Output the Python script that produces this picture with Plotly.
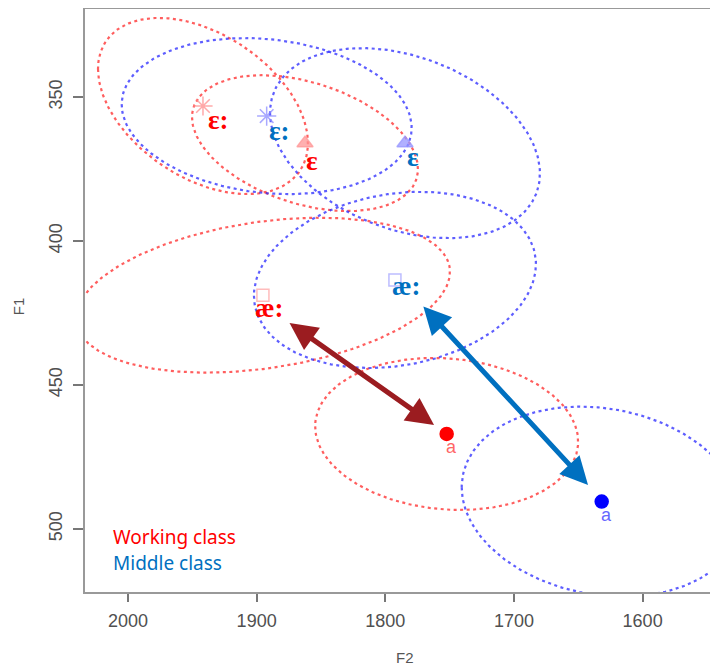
import numpy as np
import plotly.graph_objects as go

# ---------------- data (F2, F1 in Hz) ----------------
vowels = ["ɛ:", "ɛ", "æ:", "a"]
wc_f2 = [1941.7, 1862.4, 1895.1, 1752.3]
wc_f1 = [353.1, 366.0, 418.8, 467.0]
mc_f2 = [1892.2, 1784.7, 1792.5, 1631.8]
mc_f1 = [356.6, 366.0, 413.5, 490.5]

# ellipse spread: half-extent in F2, half-extent in F1, F2/F1 correlation
wc_ext_f2 = [81.6, 87.8, 145.4, 102.2]
wc_ext_f1 = [30.6, 23.6, 26.9, 26.4]
wc_corr = [-0.42, -0.38, 0.30, -0.10]
mc_ext_f2 = [112.7, 104.9, 109.6, 108.8]
mc_ext_f1 = [27.1, 33.0, 30.6, 33.0]
mc_corr = [-0.15, -0.32, 0.18, -0.15]

# double arrows between æ: and a (tip positions)
arrow_wc_f2 = [1875.6, 1762.1]
arrow_wc_f1 = [428.1, 463.9]
arrow_mc_f2 = [1771.5, 1642.4]
arrow_mc_f1 = [422.2, 484.7]

x_ticks = [2000, 1900, 1800, 1700, 1600]
y_ticks = [350, 400, 450, 500]
legend_labels = ["Working class", "Middle class"]

# ---------------- styles ----------------
symbols = ["asterisk-open", "triangle-up", "square-open", "circle"]
sizes = [16, 14, 12, 13]
wc_pale = ["rgba(255,140,140,0.75)", "rgba(255,150,150,0.75)", "rgba(255,160,160,0.7)", "rgb(255,0,0)"]
mc_pale = ["rgba(140,140,255,0.75)", "rgba(150,150,255,0.75)", "rgba(160,160,255,0.7)", "rgb(0,0,255)"]
wc_line = "rgba(255,40,40,0.75)"
mc_line = "rgba(40,40,255,0.75)"
wc_text = "#FF0000"
mc_text = "#0070C0"
# label offsets in px (dx right, dy down)
wc_off = [(15.5, 14), (6.5, 18), (7, 13), (5, 13)]
mc_off = [(13, 15), (8.5, 14), (12, 6), (5, 13)]

fig = go.Figure()
t = np.linspace(0, 2 * np.pi, 241)


def add_group(f2s, f1s, e2, e1, rr, color):
    for c2, c1, s2, s1, r in zip(f2s, f1s, e2, e1, rr):
        ex = c2 + s2 * np.cos(t)
        ey = c1 + s1 * (r * np.cos(t) + np.sqrt(1 - r * r) * np.sin(t))
        fig.add_trace(go.Scatter(x=ex, y=ey, mode="lines",
                                 line=dict(color=color, width=2.2, dash="3px,3.5px"),
                                 hoverinfo="skip", showlegend=False))


add_group(wc_f2, wc_f1, wc_ext_f2, wc_ext_f1, wc_corr, wc_line)
add_group(mc_f2, mc_f1, mc_ext_f2, mc_ext_f1, mc_corr, mc_line)

for f2s, f1s, cols in [(wc_f2, wc_f1, wc_pale), (mc_f2, mc_f1, mc_pale)]:
    for i in range(4):
        fig.add_trace(go.Scatter(
            x=[f2s[i]], y=[f1s[i]], mode="markers",
            marker=dict(symbol=symbols[i], size=sizes[i], color=cols[i],
                        line=dict(color=cols[i], width=1.5)),
            showlegend=False, hoverinfo="skip"))

annotations = []
for f2s, f1s, offs, tcol, acol in [(wc_f2, wc_f1, wc_off, wc_text, "rgba(255,60,60,0.8)"),
                                   (mc_f2, mc_f1, mc_off, mc_text, "rgba(60,60,255,0.8)")]:
    for i, v in enumerate(vowels):
        dx, dy = offs[i]
        if v == "a":
            font = dict(family="Liberation Sans, Arial, sans-serif", size=18, color=acol)
        else:
            font = dict(family="Liberation Serif, DejaVu Serif, serif", size=27, color=tcol)
            v = "<b>" + v + "</b>"
        annotations.append(dict(x=f2s[i], y=f1s[i], xref="x", yref="y", text=v,
                                showarrow=False, xshift=dx, yshift=-dy, font=font))

for af2, af1, col in [(arrow_wc_f2, arrow_wc_f1, "#9B1C20"), (arrow_mc_f2, arrow_mc_f1, "#0070C0")]:
    annotations.append(dict(x=af2[1], y=af1[1], ax=af2[0], ay=af1[0],
                            xref="x", yref="y", axref="x", ayref="y", text="",
                            showarrow=True, arrowhead=2, startarrowhead=2,
                            arrowside="end+start", arrowwidth=5, arrowsize=1.1,
                            startarrowsize=1.1, arrowcolor=col))

# legend text
for lab, yy, col in [(legend_labels[0], 0.094, wc_text), (legend_labels[1], 0.050, mc_text)]:
    annotations.append(dict(x=0.041, y=yy, xref="paper", yref="paper", text=lab,
                            showarrow=False, xanchor="left", yanchor="middle",
                            font=dict(family="Noto Sans, Open Sans, sans-serif", size=19, color=col)))

# axis titles
annotations.append(dict(x=0.5055, y=-0.113, xref="paper", yref="paper", text="F2", showarrow=False,
                        xanchor="center", yanchor="middle",
                        font=dict(family="Liberation Sans, Arial, sans-serif", size=15, color="#555555")))
annotations.append(dict(x=-0.106, y=0.49, xref="paper", yref="paper", text="F1", showarrow=False,
                        textangle=-90, xanchor="center", yanchor="middle",
                        font=dict(family="Liberation Sans, Arial, sans-serif", size=15, color="#555555")))

axis_font = dict(family="Liberation Sans, Arial, sans-serif", size=18, color="#505050")
# page body has an 8px default margin, so the figure is sized to fit the window
fig.update_layout(
    width=710, height=659,
    margin=dict(l=77, r=0, t=1, b=75, autoexpand=False),
    paper_bgcolor="white", plot_bgcolor="white",
    annotations=annotations,
    xaxis=dict(range=[2033.4, 1541.4], tickvals=x_ticks, ticks="outside", ticklen=8,
               tickwidth=1.5, tickcolor="#777777", showline=True, linecolor="#999999",
               linewidth=2, mirror=True, showgrid=False, zeroline=False, tickfont=axis_font,
               automargin=False, ticklabelstandoff=3),
    yaxis=dict(range=[521.9, 319.4], tickvals=y_ticks, ticks="outside", ticklen=10,
               tickwidth=1.5, tickcolor="#777777", showline=True, linecolor="#999999",
               linewidth=2, mirror=False, showgrid=False, zeroline=False, tickangle=-90,
               tickfont=axis_font, automargin=False, ticklabelstandoff=4),
)

fig.write_html("out.html")
